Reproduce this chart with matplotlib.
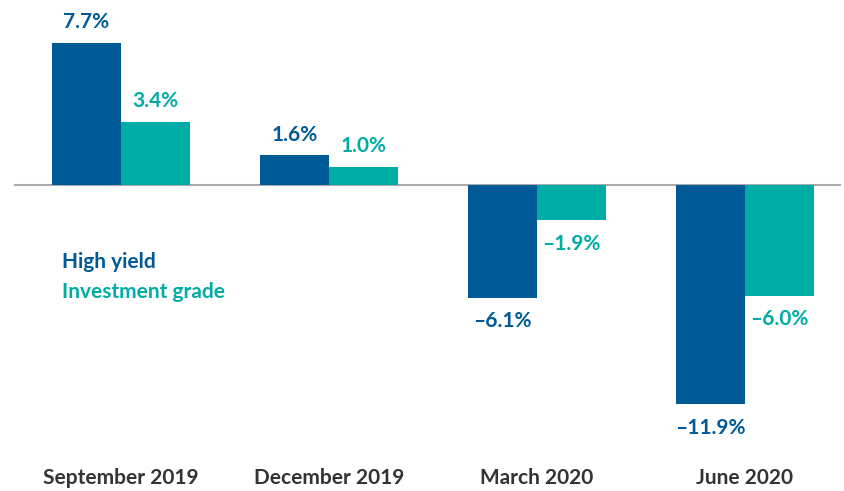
import matplotlib
matplotlib.use("Agg")
import matplotlib.pyplot as plt

categories = ["September 2019", "December 2019", "March 2020", "June 2020"]
high_yield = [7.7, 1.6, -6.1, -11.9]
investment_grade = [3.4, 1.0, -1.9, -6.0]
series_names = ["High yield", "Investment grade"]

C_HY = "#005a96"
C_IG = "#00aca6"
C_TXT = "#333333"
FONT = "Lato"
FS = 15

fig = plt.figure(figsize=(8.44, 4.91), dpi=100)
ax = fig.add_axes([0, 0, 1, 1])
ax.set_xlim(-0.5817, 3.476)
ax.set_ylim(-16.59, 10.03)
ax.axis("off")

w = 0.332
x = list(range(len(categories)))
b1 = ax.bar([i - w / 2 for i in x], high_yield, width=w, color=C_HY, zorder=2)
b2 = ax.bar([i + w / 2 for i in x], investment_grade, width=w, color=C_IG, zorder=2)
ax.plot([-0.51, 3.457], [0, 0], color="#aaaaaa", lw=1.5, zorder=1)

for bars, vals, col in [(b1, high_yield, C_HY), (b2, investment_grade, C_IG)]:
    for r, v in zip(bars, vals):
        cx = r.get_x() + r.get_width() / 2
        off = 15 if v >= 0 else -17
        ax.annotate(f"{v:.1f}%".replace("-", "\u2013"), (cx, v), xytext=(0, off),
                    textcoords="offset points", ha="center", va="center",
                    fontsize=FS, fontweight="bold", color=col, family=FONT)

for i, c in zip(x, categories):
    ax.text(i, 1 - 478 / 491, c, transform=ax.get_xaxis_transform(), ha="center", va="center",
            fontsize=FS, fontweight="bold", color=C_TXT, family=FONT)

fig.text(62 / 844, 1 - 262 / 491, series_names[0], ha="left", va="center",
         fontsize=FS, fontweight="bold", color=C_HY, family=FONT)
fig.text(62 / 844, 1 - 292 / 491, series_names[1], ha="left", va="center",
         fontsize=FS, fontweight="bold", color=C_IG, family=FONT)

fig.savefig("out.png", dpi=100)
